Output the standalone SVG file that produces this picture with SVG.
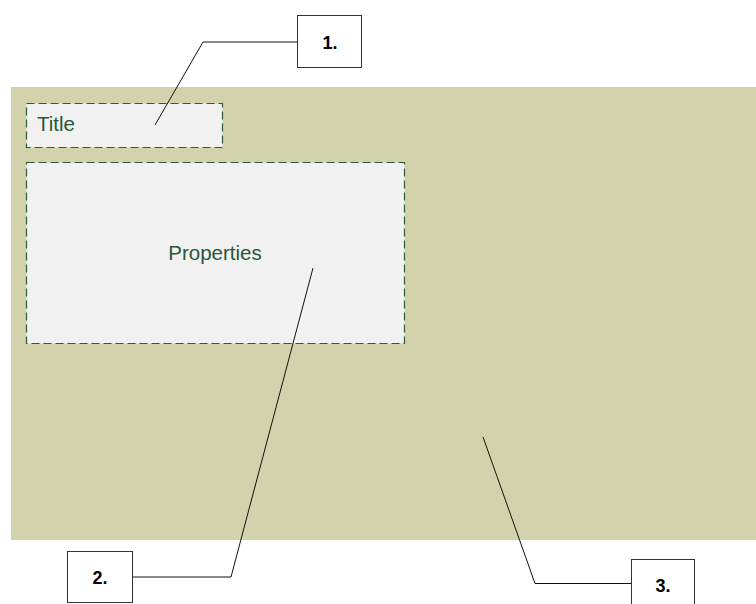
<svg xmlns="http://www.w3.org/2000/svg" width="756" height="604" viewBox="0 0 756 604">
  <style>
    .panel { fill: #f1f1f1; stroke: #2f5b3d; stroke-width: 1.2; stroke-dasharray: 8 4; }
    .panel-text { font-family: "Liberation Sans", Arial, sans-serif; font-size: 20.5px; fill: #2a5636; }
    .callout { fill: #ffffff; stroke: #333333; stroke-width: 1; }
    .callout-text { font-family: "Liberation Sans", Arial, sans-serif; font-size: 18px; font-weight: bold; fill: #000000; text-anchor: middle; }
    .leader { fill: none; stroke: #111111; stroke-width: 1; }
  </style>
  <rect width="756" height="604" fill="#ffffff"/>
  <!-- page background area -->
  <rect id="page" x="11" y="87" width="745" height="453" fill="#d2d3ac"/>

  <g id="title">
    <rect class="panel" x="26.5" y="103.5" width="196" height="44"/>
    <text class="panel-text" x="37" y="131">Title</text>
  </g>

  <g id="properties">
    <rect class="panel" x="26.5" y="162.5" width="378" height="181"/>
    <text class="panel-text" x="215" y="260" text-anchor="middle">Properties</text>
  </g>

  <g id="connectors">
    <polyline class="leader" points="155,125 203,42 297,42"/>
    <polyline class="leader" points="313,268 231,577 132,577"/>
    <polyline class="leader" points="483,437 535,583.5 631,583.5"/>
  </g>

  <g id="callout-1">
    <rect class="callout" x="297.5" y="15.5" width="64" height="52"/>
    <text class="callout-text" x="330" y="49">1.</text>
  </g>

  <g id="callout-2">
    <rect class="callout" x="67.5" y="551.5" width="65" height="51"/>
    <text class="callout-text" x="100" y="584">2.</text>
  </g>

  <g id="callout-3">
    <rect class="callout" x="631.5" y="559.5" width="63" height="52"/>
    <text class="callout-text" x="663" y="592">3.</text>
  </g>
</svg>
